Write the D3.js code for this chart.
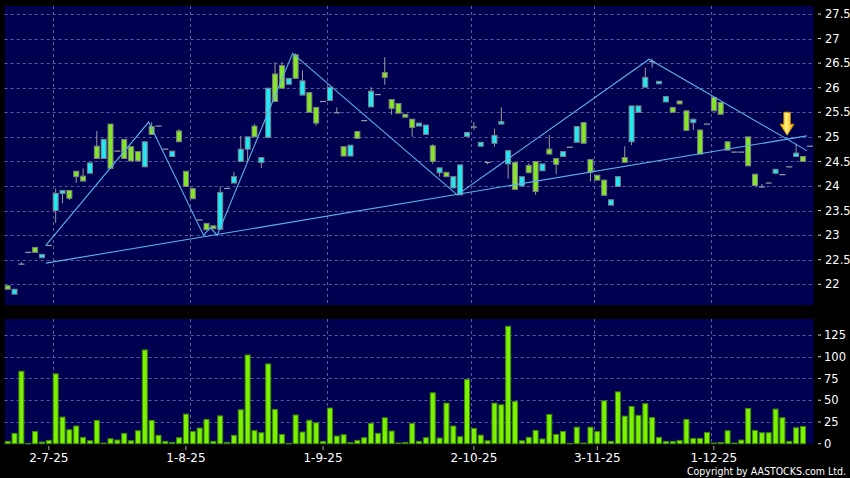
<!DOCTYPE html>
<html><head><meta charset="utf-8">
<script src="https://cdn.jsdelivr.net/npm/d3@7/dist/d3.min.js"></script>
<style>html,body{margin:0;padding:0;background:#000;}svg{display:block;}</style>
</head><body>
<svg id="chart" width="850" height="478"></svg>
<script>
const opens = [21.97,21.80,22.41,22.65,22.75,22.54,22.79,23.50,23.85,23.91,24.30,24.20,24.26,24.81,24.56,25.26,24.71,24.95,24.80,24.70,
24.39,25.21,25.22,24.75,24.60,25.12,24.30,23.95,23.31,23.24,23.19,23.12,23.95,24.06,24.50,24.75,25.22,24.48,24.99,26.28,
26.45,26.07,26.67,25.85,25.90,25.60,25.72,25.74,25.49,24.80,24.61,25.11,25.33,25.61,25.86,26.31,25.76,25.68,25.46,25.36,
25.22,25.05,24.82,24.27,24.28,23.96,23.82,25.01,25.20,24.81,24.48,24.87,25.26,24.45,24.48,24.00,24.42,24.50,24.31,24.75,
24.56,24.60,24.79,24.89,25.29,24.54,24.22,24.12,23.61,23.99,24.58,24.90,25.50,26.01,26.53,26.08,25.71,25.60,25.73,25.53,
25.29,25.14,25.26,25.80,25.70,24.90,24.69,24.69,25.00,24.24,23.98,24.06,24.26,24.23,24.39,24.60,24.60,24.81];
const highs = [21.97,21.90,22.45,22.65,22.75,22.61,22.79,23.95,23.91,23.91,24.30,24.36,24.47,25.12,24.95,25.26,24.71,24.95,24.80,24.70,
24.90,25.30,25.22,24.75,24.71,25.16,24.30,23.95,23.31,23.24,23.19,23.99,23.95,24.29,25.02,25.00,25.26,24.58,25.99,26.52,
26.52,26.19,26.70,26.35,25.90,25.60,25.72,26.01,25.60,24.80,24.83,25.11,25.33,26.01,25.86,26.62,25.76,25.68,25.46,25.36,
25.28,25.24,24.85,24.37,24.28,24.19,24.43,25.09,25.30,24.89,24.48,25.17,25.60,24.72,24.48,24.19,24.46,24.50,24.45,25.04,
24.56,24.70,24.79,25.21,25.29,24.54,24.22,24.12,23.72,24.19,24.81,25.63,25.63,26.41,26.59,26.13,25.82,25.60,25.73,25.53,
25.36,25.14,25.26,25.80,25.70,24.90,24.69,24.69,25.00,24.24,24.04,24.06,24.34,24.23,24.39,24.86,24.60,24.81];
const lows = [21.90,21.80,22.41,22.65,22.65,22.54,22.79,23.25,23.65,23.71,24.06,24.10,24.26,24.56,24.56,24.36,24.71,24.56,24.51,24.51,
24.39,25.05,25.22,24.75,24.60,24.90,23.99,23.74,23.31,23.11,23.13,23.12,23.95,24.06,24.50,24.50,25.00,24.37,24.99,25.72,
25.99,26.07,26.19,25.85,25.50,25.23,25.72,25.74,25.49,24.61,24.61,24.97,25.33,25.61,25.86,26.06,25.45,25.48,25.40,25.00,
25.22,25.05,24.45,24.19,24.19,23.96,23.82,25.01,25.14,24.81,24.44,24.80,25.26,24.15,23.93,24.00,24.27,23.82,24.31,24.65,
24.24,24.60,24.79,24.89,24.87,24.10,24.12,23.81,23.61,23.99,24.48,24.83,25.50,26.01,26.41,26.08,25.71,25.50,25.67,25.13,
25.14,24.65,25.26,25.53,25.46,24.73,24.69,24.69,24.41,24.01,23.98,24.06,24.24,24.23,24.39,24.60,24.50,24.81];
const closes = [21.90,21.90,22.41,22.65,22.65,22.61,22.79,23.85,23.91,23.75,24.19,24.10,24.47,24.56,24.95,24.36,24.71,24.56,24.51,24.51,
24.90,25.05,25.22,24.75,24.71,24.90,23.99,23.74,23.31,23.11,23.13,23.87,23.95,24.19,24.75,25.00,25.00,24.58,25.99,25.72,
25.99,26.19,26.19,26.14,25.50,25.28,25.72,26.01,25.49,24.61,24.83,24.97,25.33,25.93,25.86,26.21,25.58,25.48,25.40,25.19,
25.28,25.24,24.50,24.37,24.19,24.19,24.43,25.09,25.20,24.89,24.48,25.03,25.31,24.72,23.93,24.19,24.27,23.89,24.45,24.65,
24.44,24.70,24.79,25.21,24.87,24.28,24.12,23.81,23.72,24.19,24.48,25.63,25.63,26.21,26.53,26.13,25.82,25.50,25.67,25.13,
25.36,24.65,25.26,25.53,25.46,24.73,24.69,24.69,24.41,24.01,23.98,24.06,24.34,24.23,24.39,24.67,24.50,24.81];
const volumes = [2.7,11.9,83.3,0.4,14.1,1.9,3.8,80.3,30.6,16,20.3,7.3,3.4,26.8,0.8,5.7,4.2,11.9,3.4,14.9,
107.8,26.8,9.6,2.7,1.5,6.9,34,14,18,28,2.7,32,1.5,9.6,39,102,15,12.6,91.7,39.4,
10.7,0.4,33,13.4,27,24,2.7,41,8.8,10.3,1.5,3.8,6.9,23.3,11.9,29.8,14.5,0.8,1.5,23.3,
2.7,6.9,58.5,6.5,46.6,20.3,8,73.8,17.6,9.9,3.4,46.6,44.7,135,48.5,3.4,7.3,15.3,5.4,33.6,
10.7,14.1,0.4,19,0.8,19,14.1,49.3,2.7,59.6,31.7,42.8,32.5,46,30,7.3,2.7,2.7,3.8,28,
6.1,6.1,13,0.8,1.5,14.9,0.8,4.2,40.5,15.3,12.6,12.6,39.8,29.8,2.7,18.3,19.9,0];
const xTickIdx = [6,26,46,68,86,103];
const xTickLabels = ["2-7-25","1-8-25","1-9-25","2-10-25","3-11-25","1-12-25"];
const xGridIdx = [7,27,47,68,86,103];
const priceTicks = [22,22.5,23,23.5,24,24.5,25,25.5,26,26.5,27,27.5];
const priceTickLabels = ["22","22.5","23","23.5","24","24.5","25","25.5","26","26.5","27","27.5"];
const volTicks = [0,25,50,75,100,125];
const zigzagIdx = [6,21,29,30,31,42,66,94,117];
const zigzagVal = [22.79,25.30,23.00,23.15,23.00,26.70,23.82,26.58,24.72];
const supportIdx = [6,117];
const supportVal = [22.43,25.02];
const copyright = "Copyright by AASTOCKS.com Ltd.";

const svg = d3.select("#chart");
const N = opens.length;
const x = d3.scaleBand().domain(d3.range(N)).range([4.67, 813.7]).padding(0);
const bw = 5;
const yP = d3.scaleLinear().domain([22, 27.5]).range([284.3, 14]);
const yV = d3.scaleLinear().domain([0, 125]).range([443.7, 335]);
const pTop = 6, pBot = 305.3, vTop = 319, vBot = 443.7;
const left = 4.67, right = 813.7;

svg.append("rect").attr("width",850).attr("height",478).attr("fill","#000");
svg.append("rect").attr("x",left).attr("y",pTop).attr("width",right-left).attr("height",pBot-pTop).attr("fill","#000050");
svg.append("rect").attr("x",left).attr("y",vTop).attr("width",right-left).attr("height",vBot-vTop).attr("fill","#000050");

const gridCol = "#5c5c9c";
svg.append("g").selectAll("line").data(priceTicks).join("line")
  .attr("x1",left).attr("x2",right).attr("y1",d=>Math.round(yP(d))+0.5).attr("y2",d=>Math.round(yP(d))+0.5)
  .attr("stroke",gridCol).attr("stroke-dasharray","3,3");
svg.append("g").selectAll("line").data(volTicks.filter(d=>d>0)).join("line")
  .attr("x1",left).attr("x2",right).attr("y1",d=>Math.round(yV(d))+0.5).attr("y2",d=>Math.round(yV(d))+0.5)
  .attr("stroke",gridCol).attr("stroke-dasharray","3,3");
const gx = i => Math.round(x(i))+0.5;
svg.append("g").selectAll("line").data(xGridIdx).join("line")
  .attr("x1",gx).attr("x2",gx).attr("y1",pTop).attr("y2",pBot)
  .attr("stroke",gridCol).attr("stroke-dasharray","3,3");
svg.append("g").selectAll("line").data(xGridIdx).join("line")
  .attr("x1",gx).attr("x2",gx).attr("y1",vTop).attr("y2",vBot)
  .attr("stroke",gridCol).attr("stroke-dasharray","3,3");

svg.append("g").selectAll("rect").data(volumes.map((v,i)=>({v,i})).filter(d=>d.v>0)).join("rect")
  .attr("x",d=>x(d.i)+0.5).attr("width",bw)
  .attr("y",d=>yV(d.v)).attr("height",d=>Math.max(0.5,yV(0)-yV(d.v)))
  .attr("fill","#7cf200").attr("stroke","#3f8a0c").attr("stroke-width",1);

const ln = d3.line().x(d=>x(d[0])).y(d=>yP(d[1]));
const zz = zigzagIdx.map((d,k)=>[d,zigzagVal[k]]);
const sp = supportIdx.map((d,k)=>[d,supportVal[k]]);

const candles = d3.range(N).map(i=>({i,o:opens[i],h:highs[i],l:lows[i],c:closes[i]}));
const cg = svg.append("g");
const cx = i => x(i)+0.5+bw/2;
cg.selectAll("line.wick").data(candles.filter(d=>d.h>d.l)).join("line").attr("class","wick")
  .attr("x1",d=>cx(d.i)).attr("x2",d=>cx(d.i)).attr("y1",d=>yP(d.h)).attr("y2",d=>yP(d.l))
  .attr("stroke","#9a9a9a").attr("stroke-width",1);
const bodies = candles.filter(d=>Math.abs(d.o-d.c)>=0.02);
cg.selectAll("rect.body").data(bodies).join("rect").attr("class","body")
  .attr("x",d=>x(d.i)+0.5).attr("width",bw)
  .attr("y",d=>yP(Math.max(d.o,d.c))).attr("height",d=>Math.abs(yP(d.o)-yP(d.c)))
  .attr("fill",d=>d.c>d.o?"#22e8f2":"#84e626").attr("stroke","#7d7d8a").attr("stroke-width",1);
cg.selectAll("line.doji").data(candles.filter(d=>Math.abs(d.o-d.c)<0.02)).join("line").attr("class","doji")
  .attr("x1",d=>x(d.i)).attr("x2",d=>x(d.i)+bw+1).attr("y1",d=>yP(d.c)).attr("y2",d=>yP(d.c))
  .attr("stroke","#a0a0a8").attr("stroke-width",1.2);

svg.append("path").attr("d",ln(zz)).attr("fill","none").attr("stroke","#5ab2ea").attr("stroke-width",1.1);
svg.append("path").attr("d",ln(sp)).attr("fill","none").attr("stroke","#5ab2ea").attr("stroke-width",1.1);

const a1 = zz[zz.length-2], a2 = zz[zz.length-1];
const s1 = sp[0], s2 = sp[1];
const P = p=>[x(p[0]), yP(p[1])];
const [x1,y1]=P(a1),[x2,y2]=P(a2),[x3,y3]=P(s1),[x4,y4]=P(s2);
const den=(x1-x2)*(y3-y4)-(y1-y2)*(x3-x4);
const t=((x1-x3)*(y3-y4)-(y1-y3)*(x3-x4))/den;
const ix=x1+t*(x2-x1), iy=y1+t*(y2-y1);
const defs = svg.append("defs");
const grad = defs.append("linearGradient").attr("id","ag").attr("x1","0").attr("x2","1").attr("y1","0").attr("y2","0");
grad.append("stop").attr("offset","0").attr("stop-color","#ffb000");
grad.append("stop").attr("offset","0.45").attr("stop-color","#fff27a");
grad.append("stop").attr("offset","1").attr("stop-color","#f0a000");
const tipY = iy-4;
svg.append("path")
  .attr("d",`M${ix},${tipY} L${ix-7},${tipY-11} L${ix-3.3},${tipY-11} L${ix-3.3},${tipY-23} L${ix+3.3},${tipY-23} L${ix+3.3},${tipY-11} L${ix+7},${tipY-11} Z`)
  .attr("fill","url(#ag)").attr("stroke","#c98a00").attr("stroke-width",0.8);

const fam = "'DejaVu Sans', Verdana, sans-serif";
const ra = svg.append("g");
ra.selectAll("line").data(priceTicks).join("line")
  .attr("x1",818).attr("x2",821).attr("y1",d=>yP(d)).attr("y2",d=>yP(d)).attr("stroke","#ddd");
ra.selectAll("text").data(priceTicks).join("text")
  .attr("x",825).attr("y",d=>yP(d)).attr("dy","0.36em")
  .attr("fill","#fff").attr("font-family",fam).attr("font-size",11.5)
  .text((d,k)=>priceTickLabels[k]);
const va = svg.append("g");
va.selectAll("line").data(volTicks).join("line")
  .attr("x1",818).attr("x2",821).attr("y1",d=>yV(d)).attr("y2",d=>yV(d)).attr("stroke","#ddd");
va.selectAll("text").data(volTicks).join("text")
  .attr("x",824).attr("y",d=>yV(d)).attr("dy","0.36em")
  .attr("fill","#fff").attr("font-family",fam).attr("font-size",11.5)
  .text(d=>d);

const xa = svg.append("g");
const tx = i => x(i)+0.5+bw/2;
xa.selectAll("line").data(xTickIdx).join("line")
  .attr("x1",tx).attr("x2",tx).attr("y1",446).attr("y2",450).attr("stroke","#aaa");
xa.selectAll("text").data(xTickIdx).join("text")
  .attr("x",tx).attr("y",462).attr("text-anchor","middle")
  .attr("fill","#fff").attr("font-family",fam).attr("font-size",12)
  .text((d,k)=>xTickLabels[k]);

svg.append("text").attr("x",846).attr("y",474.5).attr("text-anchor","end")
  .attr("fill","#fff").attr("font-family","'DejaVu Sans Condensed','DejaVu Sans',sans-serif").attr("font-size",10.5)
  .attr("textLength",159).attr("lengthAdjust","spacingAndGlyphs")
  .text(copyright);
</script>
</body></html>
